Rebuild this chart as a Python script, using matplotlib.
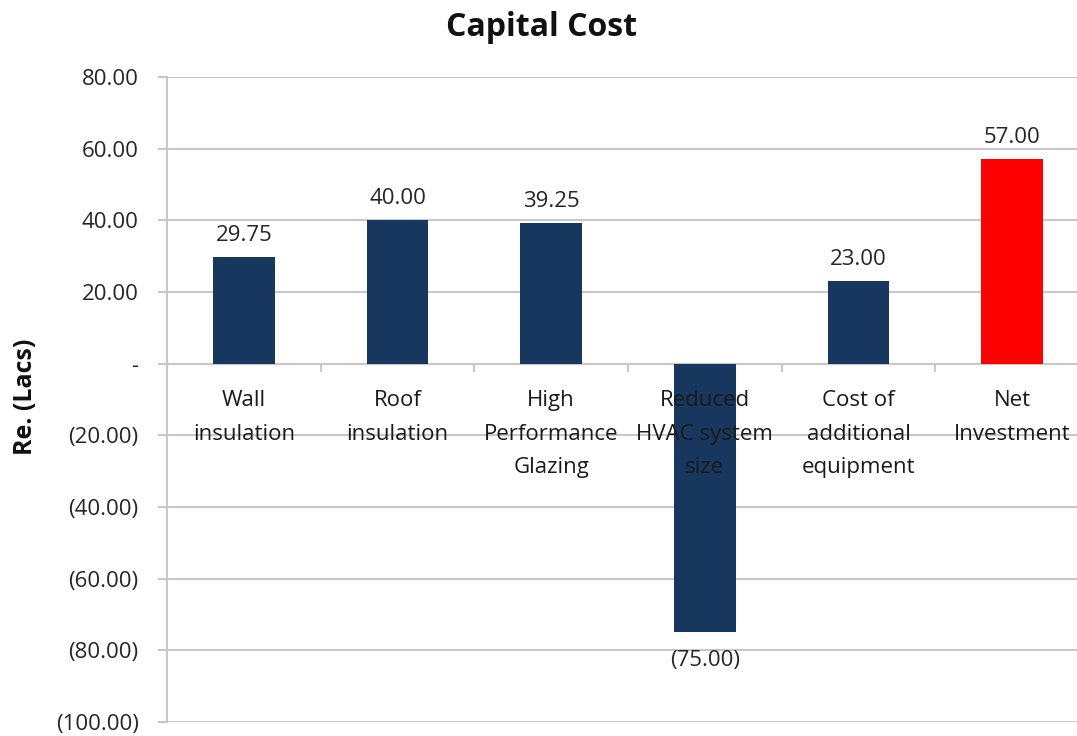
import matplotlib
matplotlib.use("Agg")
import matplotlib.pyplot as plt
from matplotlib.ticker import FixedLocator

categories = ["Wall\ninsulation", "Roof\ninsulation", "High\nPerformance\nGlazing",
              "Reduced\nHVAC system\nsize", "Cost of\nadditional\nequipment", "Net\nInvestment"]
values = [29.75, 40.00, 39.25, -75.00, 23.00, 57.00]
value_labels = ["29.75", "40.00", "39.25", "(75.00)", "23.00", "57.00"]
bar_colors = ["#17375E", "#17375E", "#17375E", "#17375E", "#17375E", "#FF0000"]
ytick_values = [80, 60, 40, 20, 0, -20, -40, -60, -80, -100]
ytick_labels = ["80.00", "60.00", "40.00", "20.00", "-", "(20.00)", "(40.00)",
                "(60.00)", "(80.00)", "(100.00)"]

plt.rcParams['font.family'] = ['Open Sans', 'DejaVu Sans']

W, H = 1077, 736
fig = plt.figure(figsize=(W / 100, H / 100), dpi=100)
left, right, top, bottom = 167, 1089, 77, 722
ax = fig.add_axes([left / W, 1 - bottom / H, (right - left) / W, (bottom - top) / H])

x = list(range(len(values)))
ax.bar(x, values, width=0.4, color=bar_colors, zorder=3)

ax.set_xlim(-0.5, len(values) - 0.5)
ax.set_ylim(-100, 80)
ax.set_yticks(ytick_values)
ax.set_yticklabels(ytick_labels, fontsize=16, color="#262626")
ax.yaxis.grid(True, color="#C8C8C8", linewidth=1.5, zorder=0)
ax.set_axisbelow(True)

for s in ["top", "right"]:
    ax.spines[s].set_visible(False)
ax.spines["left"].set_color("#C8C8C8")
ax.spines["left"].set_linewidth(1.5)
ax.spines["bottom"].set_position(("data", 0))
ax.spines["bottom"].set_color("#C8C8C8")
ax.spines["bottom"].set_linewidth(1.5)
ax.tick_params(axis="y", length=6.5, width=1.5, color="#C8C8C8", pad=14)
ax.xaxis.set_major_locator(FixedLocator([i + 0.5 for i in range(len(values) - 1)]))
ax.tick_params(axis="x", length=6, width=1.5, color="#C8C8C8", labelbottom=False)

for i, (v, lab) in enumerate(zip(values, value_labels)):
    if v >= 0:
        ax.annotate(lab, (i, v), xytext=(0, 8), textcoords="offset points",
                    ha="center", va="bottom", fontsize=16, color="#262626", zorder=5)
    else:
        ax.annotate(lab, (i, v), xytext=(0, -13), textcoords="offset points",
                    ha="center", va="top", fontsize=16, color="#262626", zorder=5)

for i, c in enumerate(categories):
    ax.annotate(c, (i, 0), xytext=(0, -19), textcoords="offset points",
                ha="center", va="top", multialignment="center", fontsize=16,
                linespacing=1.78, color="#1a1a1a", zorder=6)

fig.text(542 / W, 1 - 28 / H, "Capital Cost", ha="center", va="center",
         fontsize=23, fontweight="bold", color="#111111")
fig.text(25 / W, 1 - 397 / H, "Re. (Lacs)", ha="center", va="center",
         rotation=90, fontsize=18, fontweight="bold", color="#111111")

fig.savefig("out.png", dpi=100)
